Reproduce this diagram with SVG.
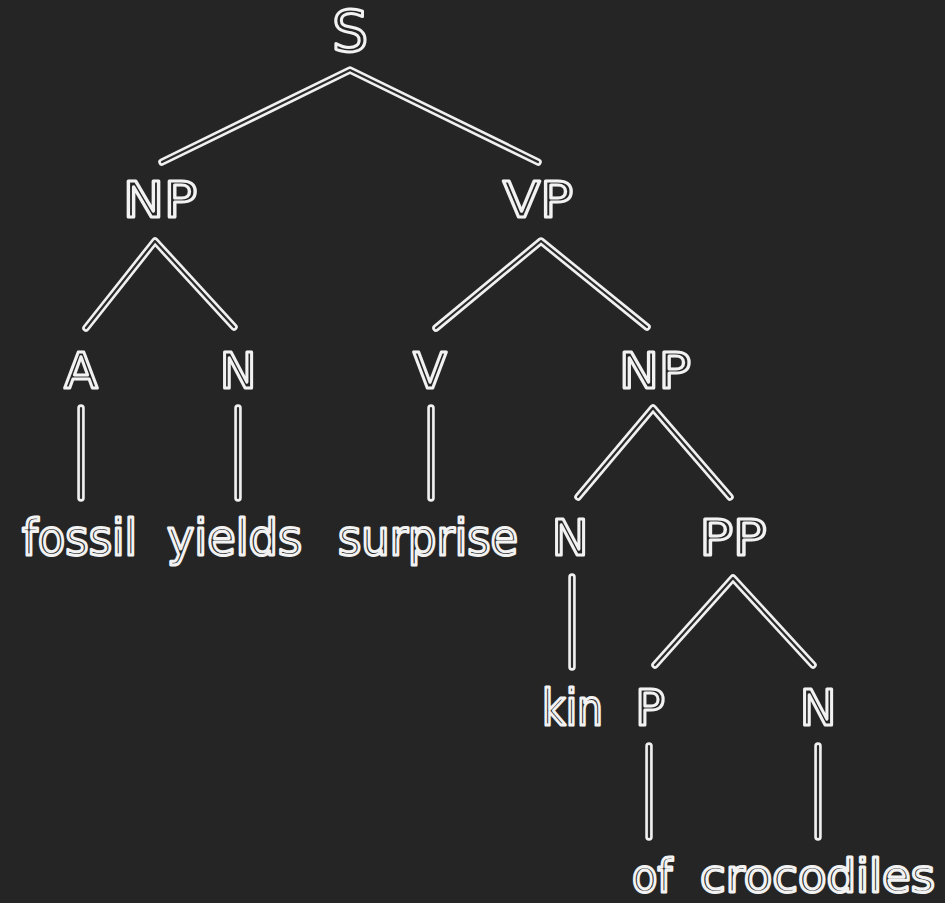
<svg xmlns="http://www.w3.org/2000/svg" xmlns:xlink="http://www.w3.org/1999/xlink" width="945" height="903" viewBox="0 0 945 903">
  <style>
    .lbl { font-family: "DejaVu Sans", "Liberation Sans", sans-serif; font-size: 49px; fill: #252525; stroke: #f2f2f2; stroke-width: 3; stroke-linejoin: round; text-anchor: middle; }
    .word { text-anchor: start; }
    .low { font-size: 46px; }
    .edge-outer { fill: none; stroke: #f0f0f0; stroke-width: 7.5; stroke-linecap: round; stroke-linejoin: round; }
    .edge-inner { fill: none; stroke: #2a2a2a; stroke-width: 2.2; stroke-linecap: round; stroke-linejoin: round; }
  </style>
  <defs>
    <g id="edge-paths">
      <path d="M162,162 L350,70 L538,162"/>
      <path d="M86,328 L155,241 L234,327"/>
      <path d="M436,328 L541,241 L647,327"/>
      <path d="M578,497 L653,408 L730,497"/>
      <path d="M655,665 L733,578 L813,665"/>
      <path d="M81,408 V498"/>
      <path d="M238,408 V498"/>
      <path d="M431,408 V498"/>
      <path d="M572,577 V667"/>
      <path d="M649,746 V837"/>
      <path d="M818,746 V837"/>
    </g>
  </defs>
  <rect width="945" height="903" fill="#252525"/>

  <!-- tree branches: hollow double strokes -->
  <g id="connectors">
    <use xlink:href="#edge-paths" class="edge-outer"/>
    <use xlink:href="#edge-paths" class="edge-inner"/>
  </g>

  <g id="node-S"><text class="lbl" x="350" y="52" style="font-size:57px">S</text></g>
  <g id="node-NP1"><text class="lbl" x="160" y="217" textLength="74" lengthAdjust="spacingAndGlyphs">NP</text></g>
  <g id="node-VP"><text class="lbl" x="538" y="217" textLength="70" lengthAdjust="spacingAndGlyphs">VP</text></g>
  <g id="node-A"><text class="lbl" x="81" y="388">A</text></g>
  <g id="node-N1"><text class="lbl" x="238" y="388">N</text></g>
  <g id="node-V"><text class="lbl" x="430" y="388">V</text></g>
  <g id="node-NP2"><text class="lbl" x="655" y="388" textLength="72" lengthAdjust="spacingAndGlyphs">NP</text></g>
  <g id="word-fossil"><text class="lbl word" x="22" y="555" textLength="115" lengthAdjust="spacingAndGlyphs">fossil</text></g>
  <g id="word-yields"><text class="lbl word" x="167" y="555" textLength="135" lengthAdjust="spacingAndGlyphs">yields</text></g>
  <g id="word-surprise"><text class="lbl word" x="338" y="555" textLength="180" lengthAdjust="spacingAndGlyphs">surprise</text></g>
  <g id="node-N2"><text class="lbl" x="570" y="555">N</text></g>
  <g id="node-PP"><text class="lbl" x="733" y="555" textLength="67" lengthAdjust="spacingAndGlyphs">PP</text></g>
  <g id="word-kin"><text class="lbl word" x="542" y="725" textLength="61" lengthAdjust="spacingAndGlyphs">kin</text></g>
  <g id="node-P"><text class="lbl" x="650" y="725">P</text></g>
  <g id="node-N3"><text class="lbl" x="818" y="725">N</text></g>
  <g id="word-of"><text class="lbl word low" x="632" y="892" textLength="40" lengthAdjust="spacingAndGlyphs">of</text></g>
  <g id="word-crocodiles"><text class="lbl word low" x="700" y="892" textLength="235" lengthAdjust="spacingAndGlyphs">crocodiles</text></g>
</svg>
